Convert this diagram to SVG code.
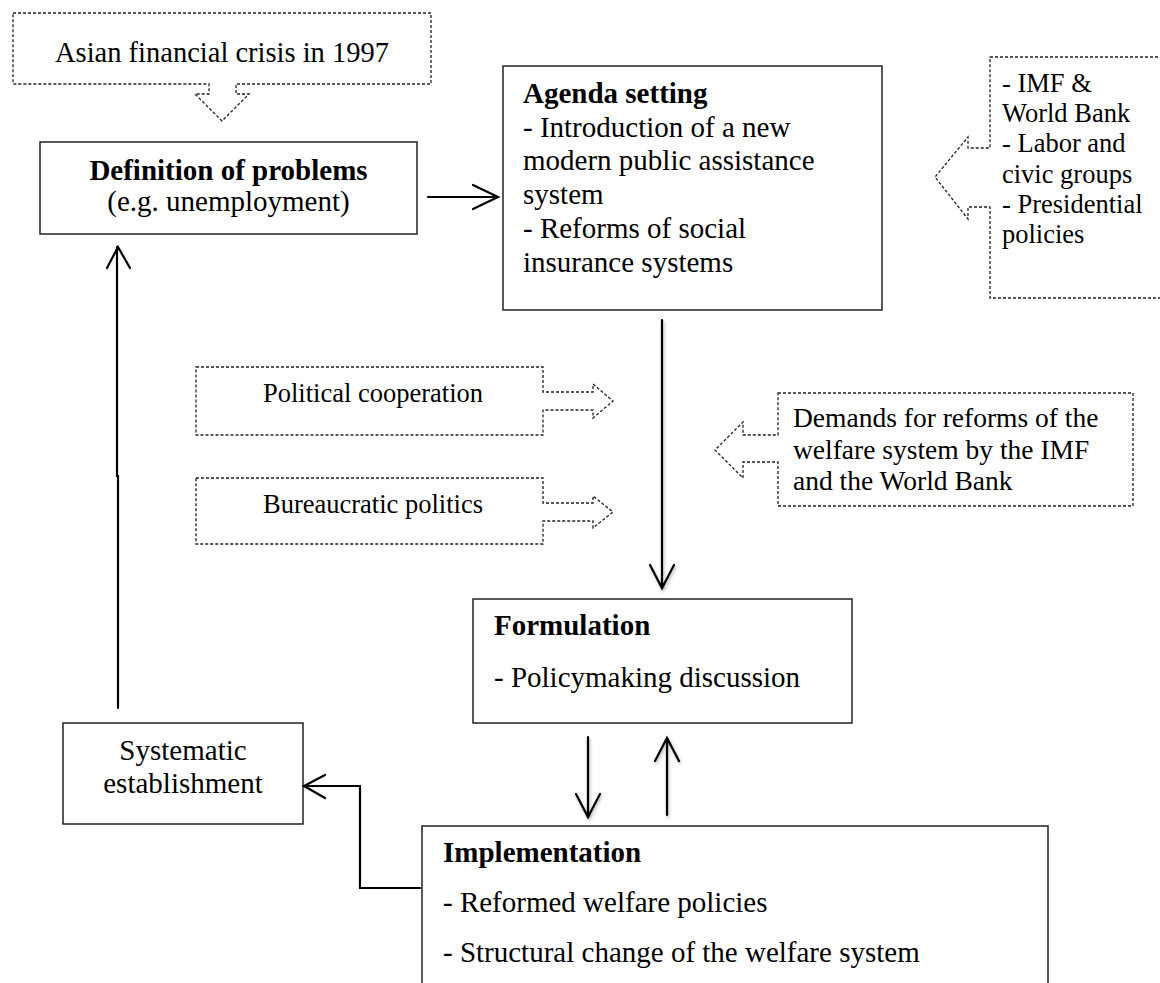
<svg xmlns="http://www.w3.org/2000/svg" width="1160" height="983" viewBox="0 0 1160 983">
<style>
.box{fill:#fff;stroke:#222;stroke-width:1.5}
.dash{fill:#fff;stroke:#222;stroke-width:1.3;stroke-dasharray:3 2}
.t{font-family:'Liberation Serif','Times New Roman',serif;font-size:29px;fill:#000}
.s{font-family:'Liberation Serif','Times New Roman',serif;font-size:26.5px;fill:#000}
.b{font-weight:bold}
.c{fill:none;stroke:#000;stroke-width:2.2;stroke-linecap:round;stroke-linejoin:miter}
</style>
<defs>
<filter id="sh" x="-50%" y="-10%" width="200%" height="120%">
<feDropShadow dx="1" dy="2" stdDeviation="1.8" flood-color="#000" flood-opacity="0.3"/>
</filter>
</defs>
<rect width="1160" height="983" fill="#fff"/>

<g id="asian-crisis">
<path class="dash" d="M13,13 H431 V84 H236 V94 H249 L222,121 L195,94 H209 V84 H13 Z"/>
<text class="t" x="222" y="62" text-anchor="middle" style="font-size:28.5px">Asian financial crisis in 1997</text>
</g>

<g id="definition">
<rect class="box" x="40" y="142" width="377" height="92"/>
<text class="t b" x="228.5" y="180" text-anchor="middle">Definition of problems</text>
<text class="t" x="228.5" y="211" text-anchor="middle">(e.g. unemployment)</text>
</g>

<g id="agenda">
<rect class="box" x="503" y="66" width="379" height="244"/>
<text class="t" x="523">
<tspan class="b" x="523" y="103">Agenda setting</tspan>
<tspan x="523" y="137">- Introduction of a new</tspan>
<tspan x="523" y="170">modern public assistance</tspan>
<tspan x="523" y="204">system</tspan>
<tspan x="523" y="238">- Reforms of social</tspan>
<tspan x="523" y="272">insurance systems</tspan>
</text>
</g>

<g id="actors">
<path class="dash" d="M990,57 H1165 V298 H990 V207 H968 V219 L935,177 L968,137 V148 H990 Z"/>
<text class="s">
<tspan x="1002" y="92">- IMF &amp;</tspan>
<tspan x="1002" y="122">World Bank</tspan>
<tspan x="1002" y="152">- Labor and</tspan>
<tspan x="1002" y="183">civic groups</tspan>
<tspan x="1002" y="213">- Presidential</tspan>
<tspan x="1002" y="243">policies</tspan>
</text>
</g>

<g id="political-cooperation">
<path class="dash" d="M196,367 H543 V392 H593 V384 L613,401 L593,418 V410 H543 V435 H196 Z"/>
<text class="s" x="263" y="402">Political cooperation</text>
</g>

<g id="bureaucratic-politics">
<path class="dash" d="M196,478 H543 V503 H593 V496 L613,512 L593,528 V521 H543 V544 H196 Z"/>
<text class="s" x="263" y="513">Bureaucratic politics</text>
</g>

<g id="demands">
<path class="dash" d="M778,393 H1133 V506 H778 V462 H743 V478 L715,450 L743,422 V435 H778 Z"/>
<text class="t" style="font-size:27.5px">
<tspan x="793" y="427">Demands for reforms of the</tspan>
<tspan x="793" y="459">welfare system by the IMF</tspan>
<tspan x="793" y="490">and the World Bank</tspan>
</text>
</g>

<g id="formulation">
<rect class="box" x="473" y="599" width="379" height="124"/>
<text class="t b" x="494" y="635">Formulation</text>
<text class="t" x="494" y="687">- Policymaking discussion</text>
</g>

<g id="implementation">
<rect class="box" x="422" y="826" width="626" height="170"/>
<text class="t b" x="443" y="862">Implementation</text>
<text class="t" x="443" y="912">- Reformed welfare policies</text>
<text class="t" x="443" y="962">- Structural change of the welfare system</text>
</g>

<g id="systematic">
<rect class="box" x="63" y="723" width="240" height="101"/>
<text class="t" x="183" y="760" text-anchor="middle">Systematic</text>
<text class="t" x="183" y="793" text-anchor="middle">establishment</text>
</g>

<g id="connectors">
<path class="c" d="M428,197 H498 M473,185 L498,197 L473,209"/>
<path class="c" filter="url(#sh)" d="M662,320 V588 M650,565 L662,588 L674,565"/>
<path class="c" filter="url(#sh)" d="M588,737 V817 M576,794 L588,817 L600,794"/>
<path class="c" filter="url(#sh)" d="M667,815 V738 M655,761 L667,738 L679,761"/>
<path class="c" d="M420,888 H360 V786 H304 M325,775 L304,786 L325,798"/>
<path class="c" d="M118,708 V476 L117,476 V247 M107,268 L118,247 L130,268"/>
</g>
</svg>
